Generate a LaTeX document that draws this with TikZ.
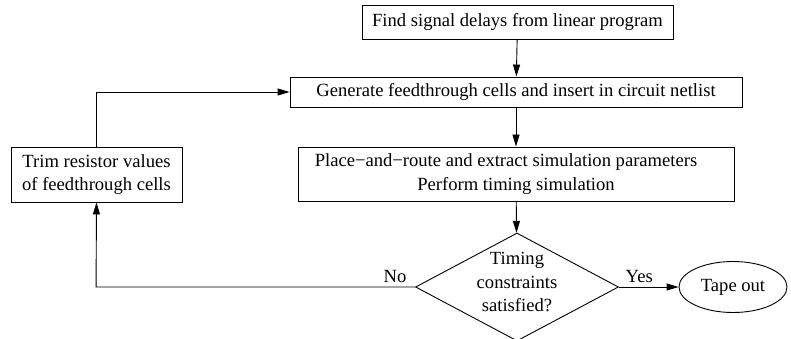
\documentclass[tikz,border=0pt]{standalone}
\usepackage{fontspec}
\setmainfont{Liberation Serif}
\usetikzlibrary{shapes.geometric,arrows.meta}
\begin{document}
\begin{tikzpicture}[x=1pt,y=-1pt,
  every node/.style={font=\fontsize{18.6}{23.5}\selectfont, inner sep=0pt},
  stepbox/.style={draw, line width=0.9pt, align=center},
  decision/.style={draw, line width=0.9pt, diamond, minimum width=203pt, minimum height=108pt},
  terminal/.style={draw, line width=0.9pt, ellipse, minimum width=108pt, minimum height=51pt},
  conn/.style={line width=0.9pt, -{Triangle[length=12pt,width=7pt]}},
  lbl/.style={above, inner sep=4pt}]
\useasboundingbox (0,0) rectangle (791,339);
\node[stepbox, minimum width=311pt, minimum height=34pt] (find) at (517.5,22) {Find signal delays from linear program};
\node[stepbox, minimum width=452pt, minimum height=30pt] (gen) at (516,92) {Generate feedthrough cells and insert in circuit netlist};
\node[stepbox, minimum width=436pt, minimum height=54pt] (place) at (516,174) {Place−and−route and extract simulation parameters\hspace*{20pt}\\Perform timing simulation};
\node[stepbox, minimum width=171pt, minimum height=55pt] (trim) at (96.5,174.5) {Trim resistor values\\of feedthrough cells};
\node[decision, label={[align=center, yshift=5pt]center:Timing\\constraints\\satisfied?}] (dec) at (517,287) {};
\node[terminal] (tape) at (733,287) {Tape out};
\draw[conn] (find) -- (gen);
\draw[conn] (gen) -- (place);
\draw[conn] (place) -- (dec);
\draw[conn] (dec.east) -- node[lbl, pos=0.34] (yes) {Yes} (tape.west);
\draw[conn] (dec.west) -- node[lbl, pos=0.063] (no) {No} ++(-319,0) -- (trim.south);
\draw[conn] (trim.north) |- (gen.west);
\end{tikzpicture}
\end{document}
